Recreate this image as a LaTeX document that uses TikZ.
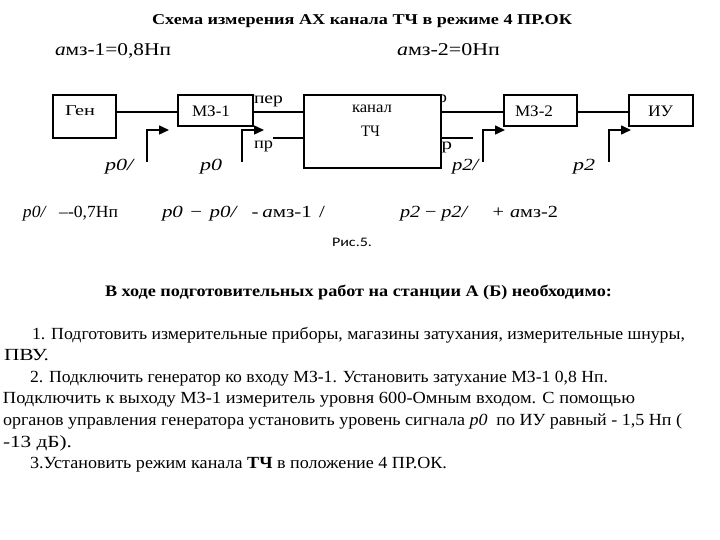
\documentclass[tikz,border=0pt]{standalone}
\usepackage{fontspec}
\usepackage{graphicx}
\setmainfont{Liberation Serif}
\newfontfamily\sansf{Carlito}
\usetikzlibrary{arrows.meta}
\newcommand{\sw}[2]{\resizebox{#1pt}{\height}{#2}}
\newcommand{\fs}[1]{\fontsize{#1}{#1}\selectfont}
\tikzset{
  txt/.style={inner sep=0pt, outer sep=0pt, anchor=base west},
  box/.style={draw, line width=1.8pt, fill=white, inner sep=0pt},
  conn/.style={line width=2.6pt},
  arr/.style={line width=1.5pt, -{Triangle[length=10pt,width=9pt]}},
}
\begin{document}
\begin{tikzpicture}[x=1pt, y=-1pt]
\useasboundingbox (0,0) rectangle (720,540);
% title and top labels
\node[txt] (title) at (152,25) {\fs{15}\bfseries\sw{420}{Схема измерения АХ канала ТЧ в режиме 4 ПР.ОК}};
\node[txt] (amz1) at (55,56) {\fs{18}\sw{116}{\textit{а}мз-1=0,8Нп}};
\node[txt] (amz2) at (397,56) {\fs{18}\sw{103}{\textit{а}мз-2=0Нп}};
% hidden labels behind the channel box
\node[txt] (prR) at (428,103) {\fs{16}\sw{19}{пр}};
\node[txt] (perR) at (421,150) {\fs{16}\sw{31}{пер}};
% boxes
\node[box, minimum width=63pt, minimum height=43pt] (gen) at (84.5,116.5) {};
\node[box, minimum width=75pt, minimum height=31pt] (mz1) at (215.5,110.5) {};
\node[box, minimum width=137pt, minimum height=73pt] (canal) at (372.5,131.5) {};
\node[box, minimum width=73pt, minimum height=31pt] (mz2) at (540.5,110.5) {};
\node[box, minimum width=64pt, minimum height=31pt] (iu) at (661,110.5) {};
% box texts
\node[txt] (gent) at (65,116) {\fs{15}\sw{30}{Ген}};
\node[txt] (mz1t) at (192,117) {\fs{16}\sw{38}{МЗ-1}};
\node[txt] (canalt) at (352,113) {\fs{16}\sw{40}{канал}};
\node[txt] (tcht) at (361,137) {\fs{16}\sw{19}{ТЧ}};
\node[txt] (mz2t) at (515,117) {\fs{16}\sw{38}{МЗ-2}};
\node[txt] (iut) at (648,117) {\fs{16}\sw{25}{ИУ}};
% side labels
\node[txt] (perL) at (254,104) {\fs{16}\sw{29}{пер}};
\node[txt] (prL) at (254,149) {\fs{16}\sw{19}{пр}};
% connectors
\coordinate (busY) at (0,112);
\coordinate (lowY) at (0,138);
\coordinate (lowL) at (273,138);
\coordinate (lowR) at (473,138);
\draw[conn] (gen.east |- busY) -- (mz1.west |- busY);
\draw[conn] (mz1.east |- busY) -- (canal.west |- busY);
\draw[conn] (canal.east |- busY) -- (mz2.west |- busY);
\draw[conn] (mz2.east |- busY) -- (iu.west |- busY);
\draw[conn] (lowL) -- (canal.west |- lowY);
\draw[conn] (canal.east |- lowY) -- (lowR);
% measuring arrows
\coordinate (a1s) at (147,162); \coordinate (a1e) at (169,130);
\coordinate (a2s) at (242,162); \coordinate (a2e) at (264,130);
\coordinate (a3s) at (483,162); \coordinate (a3e) at (505,130);
\coordinate (a4s) at (609,162); \coordinate (a4e) at (631,130);
\draw[arr] (a1s) |- (a1e);
\draw[arr] (a2s) |- (a2e);
\draw[arr] (a3s) |- (a3e);
\draw[arr] (a4s) |- (a4e);
\node[txt] (p0s) at (105,171) {\fs{17}\sw{30}{\textit{p0/}}};
\node[txt] (p0) at (200,171) {\fs{17}\sw{22}{\textit{p0}}};
\node[txt] (p2s) at (452,171) {\fs{17}\sw{28}{\textit{p2/}}};
\node[txt] (p2) at (573,171) {\fs{17}\sw{22}{\textit{p2}}};
% formulas
\node[txt] (f1) at (23,218) {\fs{17}\sw{95}{\textit{p0/}\hspace{12pt}–-0,7Нп}};
\node[txt] (f2) at (162,218) {\fs{17}\sw{163}{\textit{p0}\hspace{6pt}−\hspace{6pt}\textit{p0/}\hspace{11pt}-\hspace{3pt}\textit{а}мз-1\hspace{6pt}/}};
\node[txt] (f3) at (400,218) {\fs{17}\sw{158}{\textit{p2}\hspace{4pt}−\hspace{4pt}\textit{p2/}\hspace{20pt}+\hspace{5pt}\textit{а}мз-2}};
\node[txt] (fig) at (332,246) {\sansf\fs{13}\sw{40}{Рис.5.}};
% text block
\node[txt] (head) at (105,296) {\fs{16}\bfseries\sw{507}{В ходе подготовительных работ на станции А (Б) необходимо:}};
\node[txt] (l1) at (32,339) {\fs{17}\sw{653}{1. Подготовить измерительные приборы, магазины затухания, измерительные шнуры,}};
\node[txt] (l2) at (4,360) {\fs{17}\sw{45}{ПВУ.}};
\node[txt] (l3) at (30,382) {\fs{17}\sw{578}{2. Подключить генератор ко входу МЗ-1. Установить затухание МЗ-1 0,8 Нп.}};
\node[txt] (l4) at (3,403) {\fs{17}\sw{632}{Подключить к выходу МЗ-1 измеритель уровня 600-Омным входом. С помощью}};
\node[txt] (l5) at (3,425) {\fs{17}\sw{679}{органов управления генератора установить уровень сигнала \textit{p0}\hspace{4pt} по ИУ равный - 1,5 Нп (}};
\node[txt] (l6) at (3,447) {\fs{17}\sw{69}{-13 дБ).}};
\node[txt] (l7) at (30,468) {\fs{17}\sw{417}{3.Установить режим канала \textbf{ТЧ} в положение 4 ПР.ОК.}};
\end{tikzpicture}
\end{document}
